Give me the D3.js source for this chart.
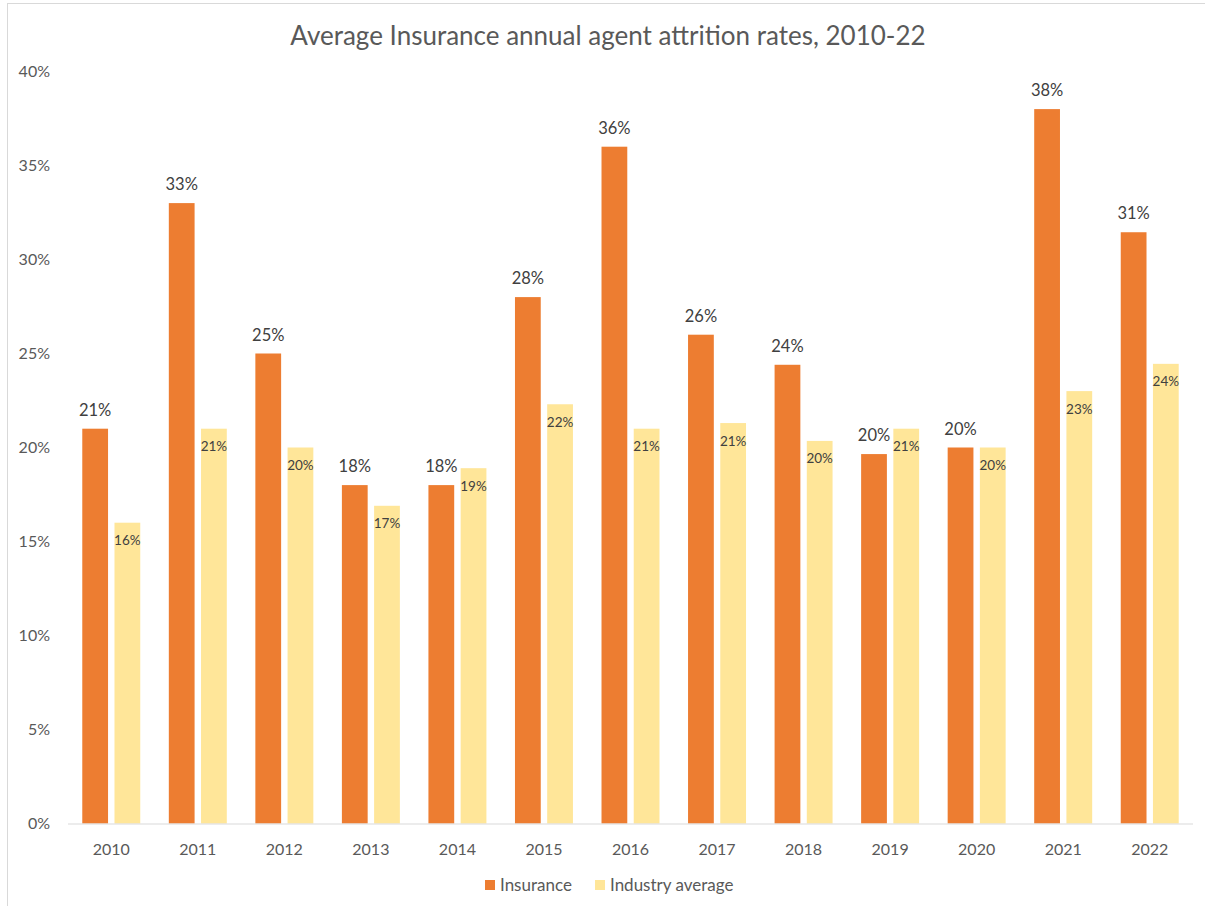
<!DOCTYPE html>
<html><head><meta charset="utf-8">
<script src="https://cdn.jsdelivr.net/npm/d3@7"></script>
<style>body{margin:0;background:#fff}svg{display:block}text{font-family:Lato,"Open Sans",sans-serif}</style>
</head><body><svg id="c" width="1205" height="906"></svg>
<script>
const years = ["2010","2011","2012","2013","2014","2015","2016","2017","2018","2019","2020","2021","2022"];
const insurance = [21.0,33.0,25.0,18.0,18.0,28.0,36.0,26.0,24.4,19.65,20.0,38.0,31.45];
const industry = [16.0,21.0,20.0,16.9,18.9,22.3,21.0,21.3,20.35,21.0,20.0,23.0,24.45];
const yTicks = [0,5,10,15,20,25,30,35,40];
const seriesNames = ["Insurance","Industry average"];
const colors = ["#ED7D31","#FFE699"];

const svg = d3.select("#c");
svg.append("rect").attr("x",7.5).attr("y",3.5).attr("width",1200).attr("height",910)
  .attr("fill","#fff").attr("stroke","#d9d9d9");

const L=68, R=1193, T=71.5, B=823.5;
const x = d3.scaleBand().domain(years).range([L,R]).paddingInner(0.33).paddingOuter(0.165);
const xs = d3.scaleBand().domain([0,1]).range([0,x.bandwidth()]).paddingInner(0.2);
const y = d3.scaleLinear().domain([0,40]).range([B,T]);

svg.append("text").attr("x",608).attr("y",45).attr("text-anchor","middle")
  .attr("font-size",26).attr("fill","#595959").text("Average Insurance annual agent attrition rates, 2010-22");

// y axis labels
svg.append("g").selectAll("text").data(yTicks).join("text")
  .attr("x",50).attr("y",d=>y(d)).attr("dy","0.35em").attr("text-anchor","end")
  .attr("font-size",16).attr("fill","#595959").text(d=>d+"%");

const data = years.map((yr,i)=>({yr, v:[insurance[i],industry[i]]}));
const g = svg.append("g").selectAll("g").data(data).join("g").attr("transform",d=>`translate(${x(d.yr)},0)`);
g.selectAll("rect").data(d=>d.v.map((v,k)=>({v,k}))).join("rect")
  .attr("x",d=>xs(d.k)).attr("width",xs.bandwidth())
  .attr("y",d=>y(d.v)).attr("height",d=>B-y(d.v))
  .attr("fill",d=>colors[d.k]);

// labels
g.append("text").attr("x",xs(0)+xs.bandwidth()/2).attr("y",d=>y(d.v[0])-13)
  .attr("text-anchor","middle").attr("font-size",16.5).attr("fill","#404040")
  .text(d=>Math.round(d.v[0])+"%");
g.append("text").attr("x",xs(1)+xs.bandwidth()/2).attr("y",d=>y(d.v[1])+22.5)
  .attr("text-anchor","middle").attr("font-size",13.5).attr("fill","#404040")
  .text(d=>Math.round(d.v[1])+"%");

// x axis
svg.append("line").attr("x1",L).attr("x2",R).attr("y1",B+0.5).attr("y2",B+0.5).attr("stroke","#d9d9d9");
svg.append("g").selectAll("text").data(years).join("text")
  .attr("x",d=>x(d)+x.bandwidth()/2).attr("y",855).attr("text-anchor","middle")
  .attr("font-size",16).attr("fill","#595959").text(d=>d);

// legend
const leg = [{n:seriesNames[0],c:colors[0],x:485},{n:seriesNames[1],c:colors[1],x:595}];
const lg = svg.append("g").selectAll("g").data(leg).join("g").attr("transform",d=>`translate(${d.x},880)`);
lg.append("rect").attr("width",10).attr("height",10).attr("fill",d=>d.c);
lg.append("text").attr("x",15).attr("y",5).attr("dy","0.35em").attr("font-size",17).attr("fill","#595959").text(d=>d.n);
</script></body></html>
